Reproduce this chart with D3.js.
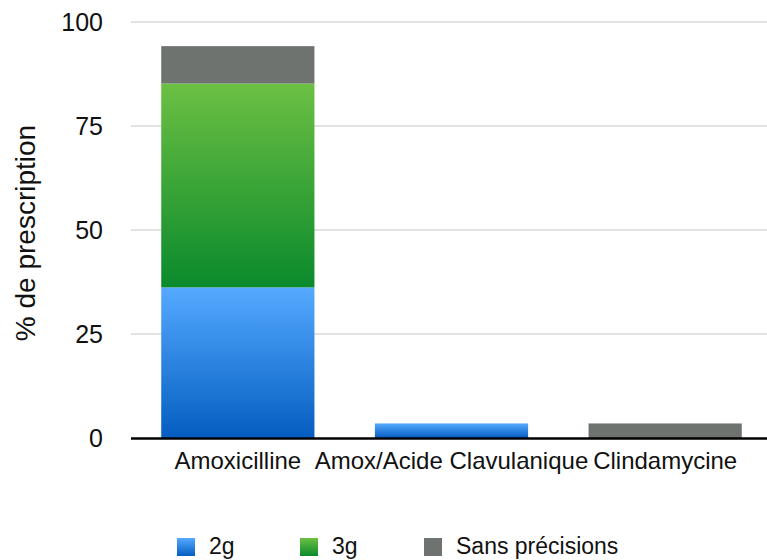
<!DOCTYPE html>
<html>
<head>
<meta charset="utf-8">
<script src="https://cdn.jsdelivr.net/npm/d3@7"></script>
<style>
  body { margin: 0; background: #fff; }
  text { font-family: "Liberation Sans", Arial, Helvetica, sans-serif; fill: #111; }
</style>
</head>
<body>
<div id="viz"></div>
<script>
const categories = ["Amoxicilline", "Amox/Acide Clavulanique", "Clindamycine"];
const seriesNames = ["2g", "3g", "Sans précisions"];
const values2g = [36.2, 3.5, 0];
const values3g = [49, 0, 0];
const valuesSans = [9, 0, 3.5];
const yTicks = [0, 25, 50, 75, 100];

const width = 767, height = 560;
const margin = {top: 22, right: 0, bottom: 122, left: 131};

const svg = d3.select("#viz")
    .append("svg")
        .attr("width", width)
        .attr("height", height);

// gradients like the original (lighter on top)
const defs = svg.append("defs");
const grads = [
    {id: "g2", top: "#55aaff", bottom: "#045dc0"},
    {id: "g3", top: "#6cc043", bottom: "#0a8a2c"},
    {id: "gs", top: "#6f7370", bottom: "#6f7370"}
];
grads.forEach(function(g) {
    const lg = defs.append("linearGradient")
        .attr("id", g.id)
        .attr("x1", 0).attr("y1", 0).attr("x2", 0).attr("y2", 1);
    lg.append("stop").attr("offset", "0%").attr("stop-color", g.top);
    lg.append("stop").attr("offset", "100%").attr("stop-color", g.bottom);
});
const fills = ["url(#g2)", "url(#g3)", "url(#gs)"];

const data = categories.map(function(c, i) {
    return {cat: c, "2g": values2g[i], "3g": values3g[i], "Sans précisions": valuesSans[i]};
});
const stacked = d3.stack().keys(seriesNames)(data);

const x = d3.scaleBand()
    .domain(categories)
    .range([margin.left, 772])
    .paddingInner(0.283)
    .paddingOuter(0.1415);

const y = d3.scaleLinear()
    .domain([0, 100])
    .range([438, margin.top]);

// gridlines
svg.append("g")
    .selectAll("line")
    .data(yTicks.filter(function(d) { return d > 0; }))
    .enter()
    .append("line")
        .attr("x1", margin.left)
        .attr("x2", width)
        .attr("y1", function(d) { return y(d); })
        .attr("y2", function(d) { return y(d); })
        .attr("stroke", "#d9d9d9")
        .attr("stroke-width", 1.3);

// y axis labels
const yAxis = svg.append("g")
    .attr("transform", `translate(${margin.left},0)`)
    .call(d3.axisLeft(y).tickValues(yTicks).tickSize(0).tickPadding(28));
yAxis.select(".domain").remove();
yAxis.selectAll("text")
    .style("font-size", "25px")
    .attr("dy", "0.35em");

// bars
svg.append("g")
    .selectAll("g")
    .data(stacked)
    .enter()
    .append("g")
        .attr("fill", function(d, i) { return fills[i]; })
    .selectAll("rect")
    .data(function(d) { return d; })
    .enter()
    .append("rect")
        .attr("x", function(d) { return x(d.data.cat); })
        .attr("width", x.bandwidth())
        .attr("y", function(d) { return y(d[1]); })
        .attr("height", function(d) { return y(d[0]) - y(d[1]); });

// baseline
svg.append("line")
    .attr("x1", margin.left)
    .attr("x2", width)
    .attr("y1", y(0) + 0.5)
    .attr("y2", y(0) + 0.5)
    .attr("stroke", "#000")
    .attr("stroke-width", 2.5);

// x axis labels
const xAxis = svg.append("g")
    .attr("transform", `translate(0,${y(0)})`)
    .call(d3.axisBottom(x).tickSize(0).tickPadding(14));
xAxis.select(".domain").remove();
xAxis.selectAll("text")
    .style("font-size", "24px");

// y title
svg.append("text")
    .attr("transform", `translate(35,233)rotate(-90)`)
    .attr("text-anchor", "middle")
    .style("font-size", "28px")
    .text("% de prescription");

// legend
const legendX = [177, 300, 424];
const legend = svg.append("g")
    .selectAll("g")
    .data(seriesNames)
    .enter()
    .append("g")
        .attr("transform", function(d, i) { return `translate(${legendX[i]},538)`; });
legend.append("rect")
    .attr("width", 18)
    .attr("height", 18)
    .attr("fill", function(d, i) { return fills[i]; });
legend.append("text")
    .attr("x", 32)
    .attr("y", 16)
    .style("font-size", "23px")
    .text(function(d) { return d; });
</script>
</body>
</html>
